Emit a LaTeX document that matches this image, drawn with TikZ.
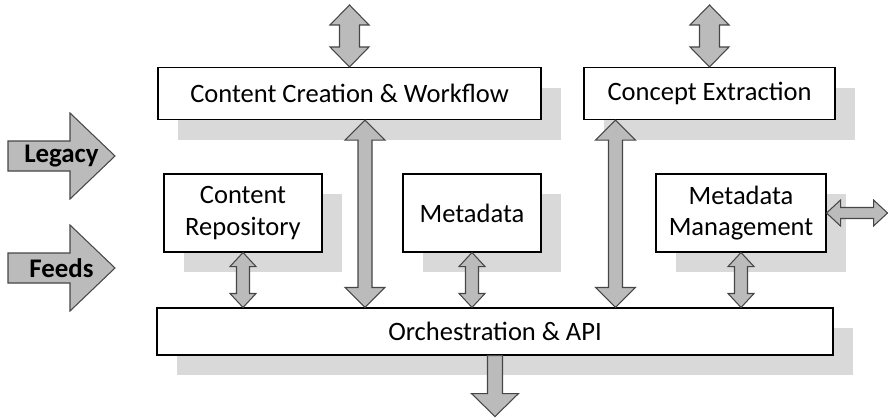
\documentclass[tikz,border=0pt]{standalone}
\usepackage{fontspec}
\setmainfont{Carlito}
\definecolor{ArrowGray}{RGB}{187,187,187}
\definecolor{EdgeGray}{RGB}{70,70,70}
\definecolor{ShadowGray}{RGB}{217,217,217}
\usepackage{tikz}
\usetikzlibrary{calc, shadows}
\tikzstyle{block} = [draw=black, line width=0.6pt, fill=white, inner sep=0pt, align=center, font=\fontsize{15.1}{18}\selectfont, drop shadow={shadow xshift=0.4cm, shadow yshift=-0.4cm, fill=ShadowGray, opacity=1}]
\tikzstyle{fatarrow} = [draw=EdgeGray, line width=0.6pt, fill=ArrowGray, line join=miter]
\tikzstyle{feedtext} = [font=\fontsize{15.3}{18}\selectfont\bfseries, inner sep=0pt]

% fat arrow, heads at both ends: from, to, shaft half width, head half width, head length
\newcommand{\twoway}[5]{%
  \coordinate (ta) at #1;
  \coordinate (tb) at #2;
  \coordinate (ha) at ($(ta)!#5!(tb)$);
  \coordinate (hb) at ($(tb)!#5!(ta)$);
  \draw[fatarrow] (ta) -- ($(ha)!#4!90:(tb)$) -- ($(ha)!#3!90:(tb)$)
    -- ($(hb)!#3!-90:(ta)$) -- ($(hb)!#4!-90:(ta)$) -- (tb)
    -- ($(hb)!#4!90:(ta)$) -- ($(hb)!#3!90:(ta)$)
    -- ($(ha)!#3!-90:(tb)$) -- ($(ha)!#4!-90:(tb)$) -- cycle;
}
% fat arrow, head at the end only
\newcommand{\oneway}[5]{%
  \coordinate (ta) at #1;
  \coordinate (tb) at #2;
  \coordinate (hb) at ($(tb)!#5!(ta)$);
  \draw[fatarrow] ($(ta)!#3!90:(tb)$) -- ($(hb)!#3!-90:(ta)$) -- ($(hb)!#4!-90:(ta)$) -- (tb)
    -- ($(hb)!#4!90:(ta)$) -- ($(hb)!#3!90:(ta)$) -- ($(ta)!#3!-90:(tb)$) -- cycle;
}

\begin{document}
\begin{tikzpicture}
                \useasboundingbox (0,0) rectangle (17.76,8.36);

                % Boxes
                \node[block, minimum width=7.66cm, minimum height=1.04cm] (ccw) at (6.99,6.49) {Content Creation \& Workflow};
                \node[block, minimum width=5.02cm, minimum height=1.04cm] (concept) at (14.19,6.49) {Concept Extraction};
                \node[block, minimum width=3.16cm, minimum height=1.56cm] (repo) at (4.86,4.10) {Content\\Repository};
                \node[block, minimum width=2.76cm, minimum height=1.56cm] (meta) at (9.44,4.10) {Metadata};
                \node[block, minimum width=3.40cm, minimum height=1.56cm] (mgmt) at (14.82,4.10) {Metadata\\Management};
                \node[block, minimum width=13.52cm, minimum height=0.94cm] (orch) at (9.90,1.73) {Orchestration \& API};

                % Free ends
                \coordinate (ccw-up) at ($(ccw.north)+(0,1.24)$);
                \coordinate (concept-up) at ($(concept.north)+(0,1.24)$);
                \coordinate (ccw-link) at ($(ccw.south)+(0.31,0)$);
                \coordinate (concept-link) at ($(concept.south)+(-1.88,0)$);
                \coordinate (mgmt-out) at ($(mgmt.east)+(1.22,0)$);
                \coordinate (orch-out) at ($(orch.south)+(0,-1.22)$);
                \coordinate (legacy-tail) at (0.16,5.24);
                \coordinate (legacy-tip) at (2.30,5.24);
                \coordinate (feeds-tail) at (0.16,3.00);
                \coordinate (feeds-tip) at (2.30,3.00);

                % Top arrows
                \twoway{(ccw.north)}{(ccw-up)}{0.20cm}{0.39cm}{0.40cm}
                \twoway{(concept.north)}{(concept-up)}{0.20cm}{0.39cm}{0.40cm}

                % Long arrows
                \twoway{(ccw-link)}{(ccw-link |- orch.north)}{0.14cm}{0.40cm}{0.40cm}
                \twoway{(concept-link)}{(concept-link |- orch.north)}{0.14cm}{0.40cm}{0.40cm}

                % Short arrows
                \twoway{(repo.south)}{(repo.south |- orch.north)}{0.13cm}{0.26cm}{0.28cm}
                \twoway{(meta.south)}{(meta.south |- orch.north)}{0.13cm}{0.26cm}{0.28cm}
                \twoway{(mgmt.south)}{(mgmt.south |- orch.north)}{0.13cm}{0.26cm}{0.28cm}
                \twoway{(mgmt.east)}{(mgmt-out)}{0.11cm}{0.26cm}{0.28cm}

                % Output
                \oneway{(orch.south)}{(orch-out)}{0.15cm}{0.47cm}{0.46cm}

                % Inputs
                \oneway{(legacy-tail)}{(legacy-tip)}{0.30cm}{0.86cm}{0.90cm}
                \oneway{(feeds-tail)}{(feeds-tip)}{0.30cm}{0.86cm}{0.90cm}
                \node[feedtext] (legacy) at ($(legacy-tail)!0.5!(legacy-tip)$) {Legacy};
                \node[feedtext] (feeds) at ($(feeds-tail)!0.5!(feeds-tip)$) {Feeds};
            \end{tikzpicture}
\end{document}
